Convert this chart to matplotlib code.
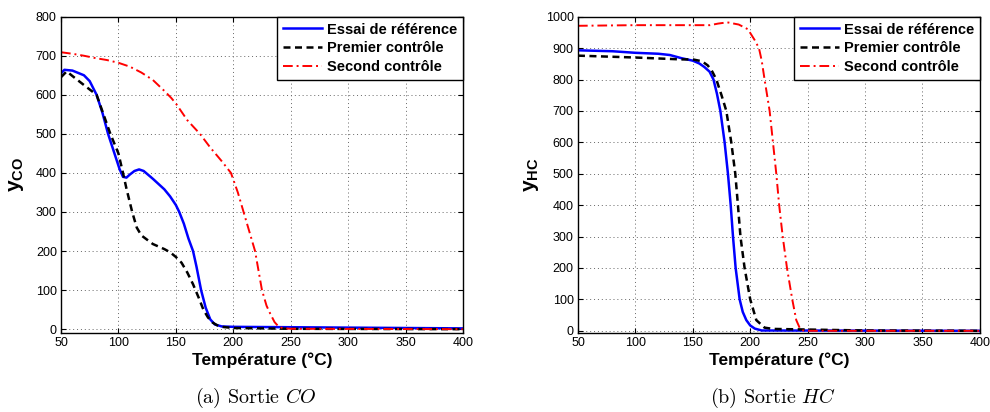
import numpy as np
import matplotlib
matplotlib.use('Agg')
import matplotlib.pyplot as plt

plt.rcParams['font.family'] = ['Liberation Sans', 'DejaVu Sans']
plt.rcParams['mathtext.fontset'] = 'custom'
plt.rcParams['mathtext.rm'] = 'Liberation Sans:bold'
plt.rcParams['mathtext.it'] = 'Liberation Sans:bold'
plt.rcParams['mathtext.bf'] = 'Liberation Sans:bold'

# --------------------- données ---------------------
# Sortie CO
co_ref_T = [50, 53, 60, 70, 75, 81, 86, 91, 96, 101, 104, 107, 110, 114, 118, 122, 130, 140, 145,
            150, 153, 157, 161, 165, 168, 172, 176, 180, 184, 190, 200, 300, 400]
co_ref_y = [655, 664, 662, 650, 635, 600, 555, 500, 455, 410, 390, 388, 396, 405, 409, 405, 385, 358, 340,
            318, 300, 270, 232, 200, 160, 100, 55, 25, 12, 7, 6, 4, 2]

co_p1_T = [50, 55, 60, 70, 81, 87, 93, 100, 104, 107, 112, 116, 120, 130, 140, 145, 150, 155, 160,
           165, 170, 174, 178, 182, 186, 190, 200, 250, 400]
co_p1_y = [645, 660, 648, 625, 600, 550, 500, 450, 400, 360, 300, 260, 240, 218, 205, 197, 185, 170, 145,
           115, 80, 50, 30, 17, 10, 6, 3, 1, 0]

co_p2_T = [50, 60, 70, 80, 90, 100, 110, 120, 130, 140, 146, 150, 160, 171, 180, 190, 198, 204, 209,
           214, 219, 222, 225, 229, 232, 236, 240, 245, 250, 400]
co_p2_y = [709, 705, 700, 694, 689, 682, 672, 657, 638, 610, 592, 578, 535, 500, 465, 430, 400, 350, 300,
           250, 200, 150, 100, 60, 41, 18, 5, 2, 1, 0]

# Sortie HC
hc_ref_T = [50, 80, 100, 120, 130, 140, 150, 155.7, 160, 164.6, 168, 171, 174, 177.7, 180.6, 183, 185,
            187.3, 190.8, 193.5, 196.6, 200, 204, 210, 400]
hc_ref_y = [893, 890, 885, 882, 878, 868, 860, 851, 840, 825, 800, 755, 700, 600, 500, 400, 300,
            200, 100, 60, 34, 17, 7, 1, 0]

hc_p1_T = [50, 100, 140, 150, 158, 163, 167, 170.5, 175, 179.2, 183.5, 187, 189.3, 191.5, 195.1,
           200, 205.3, 212.5, 220, 250, 300, 400]
hc_p1_y = [876, 870, 864, 864, 858, 845, 825, 800, 750, 700, 600, 500, 400, 300, 200,
           100, 34, 10, 6, 4, 1, 0]

hc_p2_T = [50, 100, 150, 165, 172, 180, 190, 198, 203.8, 207.6, 210, 212.5, 216.9, 219.8, 222.7, 225.2,
           228.3, 232, 236.6, 240.1, 243.6, 246, 250, 400]
hc_p2_y = [971, 973, 973, 973, 978, 982, 975, 960, 926, 900, 860, 800, 700, 600, 500, 400, 300,
           200, 100, 34, 5, 1, 0, 0]

labels = ['Essai de référence', 'Premier contrôle', 'Second contrôle']
x_ticks = [50, 100, 150, 200, 250, 300, 350, 400]

panels = [
    dict(ref=(co_ref_T, co_ref_y), p1=(co_p1_T, co_p1_y), p2=(co_p2_T, co_p2_y),
         ylim=(-9, 800), yticks=np.arange(0, 801, 100), ylabel=r'$y_{CO}$', ylab_x=-0.086,
         caption=r'(a) Sortie $CO$', rect=[0.0616, 0.1925, 0.406, 0.767]),
    dict(ref=(hc_ref_T, hc_ref_y), p1=(hc_p1_T, hc_p1_y), p2=(hc_p2_T, hc_p2_y),
         ylim=(-6, 1000), yticks=np.arange(0, 1001, 100), ylabel=r'$y_{HC}$', ylab_x=-0.093,
         caption=r'(b) Sortie $HC$', rect=[0.5838, 0.1925, 0.406, 0.767]),
]

fig = plt.figure(figsize=(9.9, 4.12), dpi=100)

for p in panels:
    ax = fig.add_axes(p['rect'])
    ax.plot(*p['ref'], color='#0000ff', lw=1.8, label=labels[0])
    ax.plot(*p['p1'], color='black', lw=1.8, linestyle=(0, (2.8, 1.8)), label=labels[1])
    ax.plot(*p['p2'], color='#ff0000', lw=1.4, linestyle=(0, (5, 2, 1, 2)), label=labels[2])

    ax.set_xlim(50, 400)
    ax.set_ylim(*p['ylim'])
    ax.set_xticks(x_ticks)
    ax.set_yticks(p['yticks'])
    ax.tick_params(direction='in', top=True, right=True, length=3.5, width=0.8,
                   labelsize=9, pad=3)
    ax.grid(True, color='#666666', linestyle=(0, (1, 3)), linewidth=0.7)
    for s in ax.spines.values():
        s.set_linewidth(1.0)

    ax.set_xlabel('Température (°C)', fontsize=12.5, fontweight='bold', labelpad=2.5)
    ax.set_ylabel(p['ylabel'], fontsize=15)
    ax.yaxis.set_label_coords(p['ylab_x'], 0.5)

    leg = ax.legend(loc='upper right', borderaxespad=0, fancybox=False, framealpha=1,
                    edgecolor='black', prop={'weight': 'bold', 'size': 10.5},
                    handlelength=2.7, handletextpad=0.3, labelspacing=0.33,
                    borderpad=0.4)
    leg.get_frame().set_linewidth(1.0)

    r = p['rect']
    fig.text(r[0] + r[2] / 2 - 0.006, 0.034, p['caption'], ha='center', va='center',
             fontsize=14.5, family='cmr10', math_fontfamily='cm')

fig.savefig('out.png', dpi=100)
